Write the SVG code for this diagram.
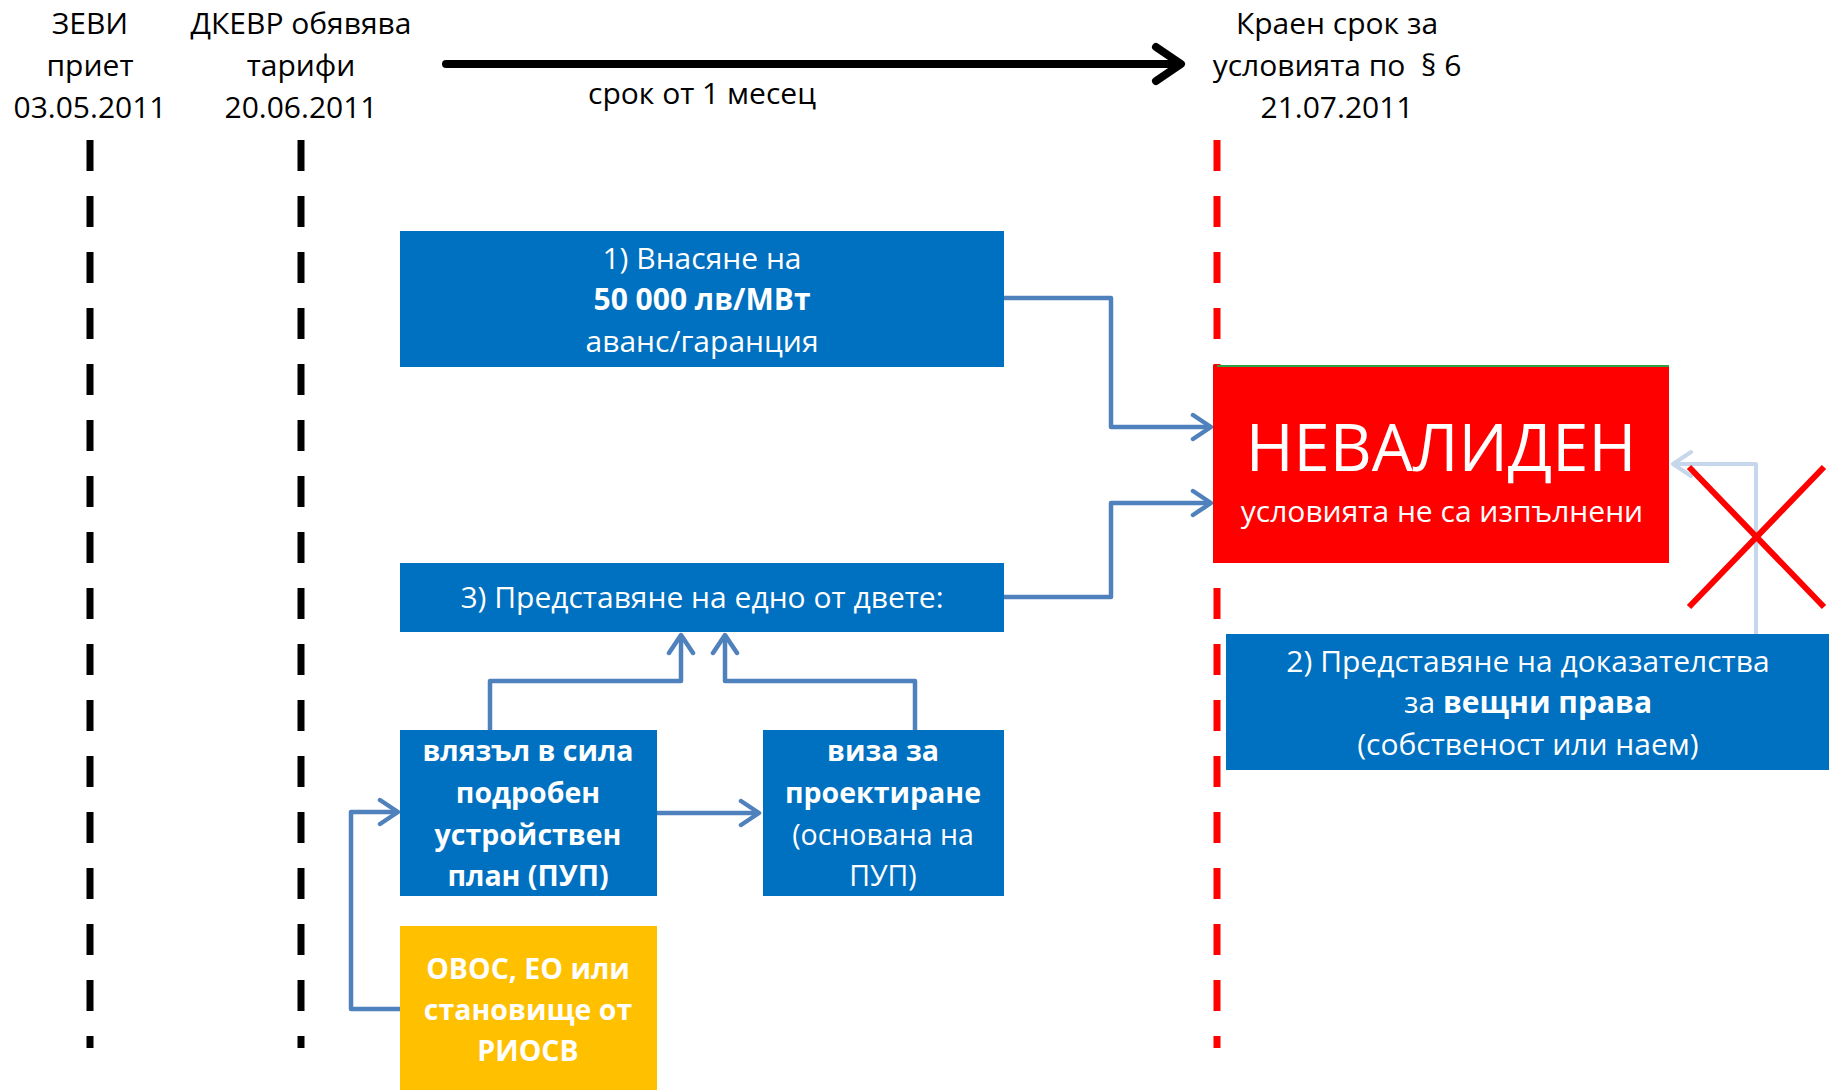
<svg xmlns="http://www.w3.org/2000/svg" width="1829" height="1090" viewBox="0 0 1829 1090">
<style>
text{font-family:"Open Sans","Noto Sans",sans-serif;font-size:30px;text-anchor:middle}
.hdr{fill:#000}
.w{fill:#fff}
.b{font-weight:bold}
.sm{font-size:28.5px}
.blue{fill:#0070C0}
.conn{fill:none;stroke:#4F81BD;stroke-width:4.5;stroke-linejoin:round}
.dash{fill:none;stroke-width:7;stroke-dasharray:31 25}
</style>
<defs>
<marker id="ah" viewBox="0 0 24 30" refX="21" refY="15" markerWidth="24" markerHeight="30" markerUnits="userSpaceOnUse" orient="auto">
<path d="M3,3 L21,15 L3,27" fill="none" stroke="#4F81BD" stroke-width="4.5" stroke-linecap="round" stroke-linejoin="round"/>
</marker>
</defs>
<rect width="1829" height="1090" fill="#fff"/>

<g id="timeline">
<line class="dash" x1="90" y1="140" x2="90" y2="1048" stroke="#000"/>
<line class="dash" x1="301" y1="140" x2="301" y2="1048" stroke="#000"/>
<line class="dash" x1="1217" y1="140" x2="1217" y2="1048" stroke="#FF0000"/>
<path d="M446,64 L1178,64 M1156,47 L1181,64 L1156,81" fill="none" stroke="#000" stroke-width="8" stroke-linecap="round" stroke-linejoin="round"/>
<text class="hdr" x="702" y="104">срок от 1 месец</text>
</g>

<g id="hdr-zevi">
<text class="hdr" x="90" y="34">ЗЕВИ</text>
<text class="hdr" x="90" y="76">приет</text>
<text class="hdr" x="90" y="118">03.05.2011</text>
</g>
<g id="hdr-dkevr">
<text class="hdr" x="301" y="34">ДКЕВР обявява</text>
<text class="hdr" x="301" y="76">тарифи</text>
<text class="hdr" x="301" y="118">20.06.2011</text>
</g>
<g id="hdr-deadline">
<text class="hdr" x="1337" y="34">Краен срок за</text>
<text class="hdr" x="1337" y="76" xml:space="preserve">условията по  § 6</text>
<text class="hdr" x="1337" y="118">21.07.2011</text>
</g>

<g id="connectors">
<path class="conn" d="M1004,298 H1111 V427 H1211" marker-end="url(#ah)"/>
<path class="conn" d="M1004,597 H1111 V503 H1211" marker-end="url(#ah)"/>
<path class="conn" d="M490,730 V681 H681 V635" marker-end="url(#ah)"/>
<path class="conn" d="M915,730 V681 H725 V635" marker-end="url(#ah)"/>
<path class="conn" d="M657,813 H759" marker-end="url(#ah)"/>
<path class="conn" d="M400,1009 H351 V812 H398" marker-end="url(#ah)"/>
<path d="M1756,634 V464 H1674 M1691,452 L1673,464 L1691,476" fill="none" stroke="#C6D7EB" stroke-width="4" stroke-linejoin="round" stroke-linecap="round"/>
<path d="M1689,467 L1824,607 M1824,467 L1689,607" stroke="#FF0000" stroke-width="6" fill="none"/>
</g>

<g id="node-1">
<rect class="blue" x="400" y="231" width="604" height="136"/>
<text class="w" x="702" y="269">1) Внасяне на</text>
<text class="w b" x="702" y="310">50 000 лв/МВт</text>
<text class="w" x="702" y="352">аванс/гаранция</text>
</g>

<g id="node-3">
<rect class="blue" x="400" y="563" width="604" height="69"/>
<text class="w" x="702" y="608">3) Представяне на едно от двете:</text>
</g>

<g id="node-pup">
<rect class="blue" x="400" y="730" width="257" height="166"/>
<text class="w b sm" x="528" y="761">влязъл в сила</text>
<text class="w b sm" x="528" y="803">подробен</text>
<text class="w b sm" x="528" y="845">устройствен</text>
<text class="w b sm" x="528" y="886">план (ПУП)</text>
</g>

<g id="node-viza">
<rect class="blue" x="763" y="730" width="241" height="166"/>
<text class="w b sm" x="883" y="761">виза за</text>
<text class="w b sm" x="883" y="803">проектиране</text>
<text class="w sm" x="883" y="845">(основана на</text>
<text class="w sm" x="883" y="886">ПУП)</text>
</g>

<g id="node-ovos">
<rect x="400" y="926" width="257" height="164" fill="#FFC000"/>
<text class="w b sm" x="528" y="979">ОВОС, ЕО или</text>
<text class="w b sm" x="528" y="1020">становище от</text>
<text class="w b sm" x="528" y="1061">РИОСВ</text>
</g>

<g id="node-invalid">
<rect x="1213" y="365" width="456" height="198" fill="#FF0000"/>
<line x1="1217" y1="366" x2="1669" y2="366" stroke="#2EA043" stroke-width="2"/>
<text class="w" x="1441" y="471" style="font-size:65px">НЕВАЛИДЕН</text>
<text class="w" x="1442" y="522">условията не са изпълнени</text>
</g>

<g id="node-2">
<rect class="blue" x="1226" y="634" width="603" height="136"/>
<text class="w" x="1528" y="672">2) Представяне на доказателства</text>
<text class="w" x="1528" y="713">за <tspan class="b">вещни права</tspan></text>
<text class="w" x="1528" y="755">(собственост или наем)</text>
</g>
</svg>
